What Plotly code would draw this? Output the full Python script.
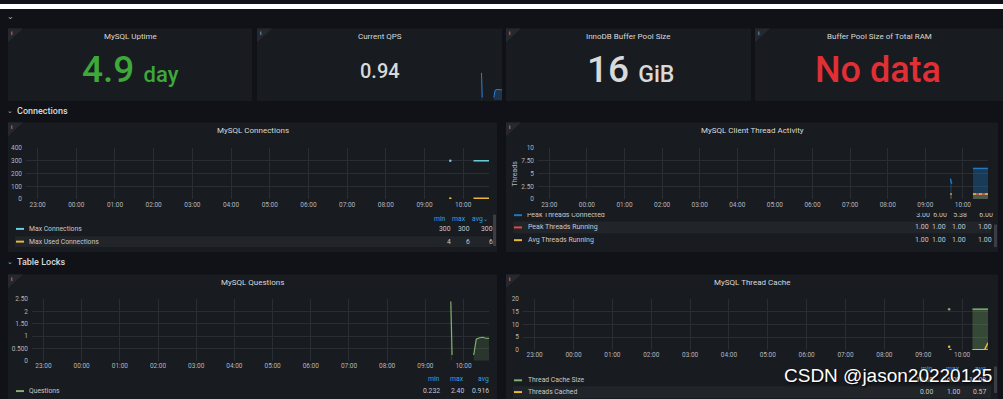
import plotly.graph_objects as go

W, H = 1003, 399
FONT = "Roboto"
BG = "#111217"
PANEL = "#181b1f"
GRID = "#2a2d33"
TICK = "#b4b6bc"
TXT = "#d8d9da"
LEG = "#c7c8cc"
BLUE_HDR = "#33a2e5"


def X(px):
    return px / W


def Y(py):
    return 1 - py / H


# ---------------- data ----------------
x_range = ["2022-01-24 22:42", "2022-01-25 10:40"]
times = ["2022-01-25 09:40", "2022-01-25 09:42", "2022-01-25 10:00",
         "2022-01-25 10:16", "2022-01-25 10:20", "2022-01-25 10:25",
         "2022-01-25 10:30", "2022-01-25 10:35", "2022-01-25 10:40"]
max_connections = [300, None, None, 300, 300, 300, 300, 300, 300]
max_used_connections = [4, None, None, 6, 6, 6, 6, 6, 6]
peak_threads_connected = [4, 3, None, 6, 6, 6, 6, 6, 6]
peak_threads_running = [1, 1, None, 1, 1, 1, 1, 1, 1]
avg_threads_running = [1, 1, None, 1, 1, 1, 1, 1, 1]
questions = [2.40, 0.232, None, 0.232, 0.87, 0.93, 0.95, 0.91, 0.90]
thread_cache_size = [16, None, None, 16, 16, 16, 16, 16, 16]
threads_cached = [1.2, None, None, 0, 0, 0, 0, 0.2, 2.8]
threads_created = [None, 0, None, 0, 0, 0, 0, 0, 0]

stat_titles = ["MySQL Uptime", "Current QPS", "InnoDB Buffer Pool Size",
               "Buffer Pool Size of Total RAM"]
stat_values = ["4.9", "0.94", "16", "No data"]
stat_units = ["day", "", "GiB", ""]

row_titles = ["Connections", "Table Locks"]
panel_titles = ["MySQL Connections", "MySQL Client Thread Activity",
                "MySQL Questions", "MySQL Thread Cache"]

conn_y_ticks = [0, 100, 200, 300, 400]
conn_y_text = ["0", "100", "200", "300", "400"]
thr_y_ticks = [0, 2.5, 5, 7.5, 10]
thr_y_text = ["0", "2.50", "5", "7.50", "10"]
q_y_ticks = [0, 0.5, 1, 1.5, 2, 2.5]
q_y_text = ["0", "0.500", "1", "1.50", "2", "2.50"]
tc_y_ticks = [0, 5, 10, 15, 20]
tc_y_text = ["0", "5", "10", "15", "20"]

legend_headers = ["min", "max", "avg"]
conn_legend_names = ["Max Connections", "Max Used Connections"]
conn_legend_vals = [["300", "300", "300"], ["4", "6", "6"]]
thr_legend_names = ["Peak Threads Connected", "Peak Threads Running", "Avg Threads Running"]
thr_legend_vals = [["3.00", "6.00", "5.38", "6.00"],
                   ["1.00", "1.00", "1.00", "1.00"],
                   ["1.00", "1.00", "1.00", "1.00"]]
q_legend_names = ["Questions"]
q_legend_vals = [["0.232", "2.40", "0.916"]]
tc_legend_names = ["Thread Cache Size", "Threads Cached"]
tc_legend_vals = [["16.00", "16.00", "16.00"], ["0.00", "1.00", "0.57"]]

C_CYAN = "#6ED0E0"
C_YEL = "#EAB839"
C_BLUE = "#1F78C1"
C_RED = "#E24D42"
C_GREEN = "#7EB26D"

shapes = []
annotations = []


def rect(x0, y0, x1, y1, color, layer="below"):
    shapes.append(dict(type="rect", xref="paper", yref="paper",
                       x0=X(x0), x1=X(x1), y0=Y(y1), y1=Y(y0),
                       fillcolor=color, line=dict(width=0), layer=layer))


def text(x, y, s, size=7, color=LEG, xanchor="center", yanchor="middle", weight=None, **kw):
    f = dict(size=size, color=color, family=FONT)
    if weight:
        f["weight"] = weight
    annotations.append(dict(x=X(x), y=Y(y), xref="paper", yref="paper", text=s,
                            showarrow=False, xanchor=xanchor, yanchor=yanchor,
                            borderpad=0, font=f, **kw))


def corner(px, py):
    shapes.append(dict(type="path", xref="paper", yref="paper",
                       path=f"M {X(px)},{Y(py)} L {X(px + 15)},{Y(py)} L {X(px)},{Y(py + 14)} Z",
                       fillcolor="#25282e", line=dict(width=0), layer="below"))
    text(px + 4, py + 4, "i", size=6, color="#c7c8cc")


# ---------------- page chrome ----------------
rect(0, 0, W, 5, "#ffffff")
text(10, 13, "⌄", size=8, color="#aeb0b5")

stat_boxes = [(8, 252), (257, 502), (506, 751), (755, 1003)]
for (x0, x1), t in zip(stat_boxes, stat_titles):
    rect(x0, 25, x1, 99, PANEL)
    corner(x0, 25)
    text((x0 + x1) / 2, 33, t, size=8, color=TXT)

# stat values
text(130, 67, stat_values[0] + f' <span style="font-size:22px">{stat_units[0]}</span>',
     size=37, color="#3ea83a", weight=500)
text(380, 68, stat_values[1], size=20, color=TXT, weight=500)
text(630, 67, stat_values[2] + f' <span style="font-size:23px">{stat_units[2]}</span>',
     size=37, color=TXT, weight=500)
text(878, 67, stat_values[3], size=36, color="#e02f35", weight=500)

# rows
text(10, 109, "⌄", size=7, color="#aeb0b5")
text(16, 109, row_titles[0], size=9, color=TXT, xanchor="left", weight=500)
text(10, 263, "⌄", size=7, color="#aeb0b5")
text(16, 263, row_titles[1], size=9, color=TXT, xanchor="left", weight=500)

# chart panels
chart_boxes = [(8, 121, 497, 253), (506, 121, 998, 253),
               (8, 276, 497, 405), (506, 276, 998, 405)]
title_y = [129.5, 129.5, 284, 284]
for (x0, y0, x1, y1), t, ty in zip(chart_boxes, panel_titles, title_y):
    rect(x0, y0, x1, y1, PANEL)
    corner(x0, y0)
    text((x0 + x1) / 2, ty, t, size=8, color=TXT)

text(515, 173, "Threads", size=7, color=TICK, textangle=-90)


def swatch(x, y, color):
    rect(x, y - 1, x + 8, y + 1, color)


# legend: MySQL Connections
for h, xr in zip(legend_headers, [447, 467, 484]):
    text(xr, 219, h, size=6.8, color=BLUE_HDR, xanchor="right")
text(489, 219, "⌄", size=6, color=BLUE_HDR, xanchor="right")
rect(15, 237, 491, 248, "#212429")
for i, (nm, vals, col) in enumerate(zip(conn_legend_names, conn_legend_vals, [C_CYAN, C_YEL])):
    yy = 229.5 + i * 13
    swatch(16, yy, col)
    text(28, yy, nm, size=6.8, xanchor="left")
    for v, xr in zip(vals, [452, 471, 494]):
        text(xr, yy, v, size=6.8, xanchor="right")
rect(493, 215, 496, 247, "#3a3d43")

# legend: Thread activity (first row is clipped -> drawn as clipped text trace)
rect(513, 222, 991, 234, "#212429")
swatch(514, 215.5, C_BLUE)
for i, (nm, vals, col) in enumerate(zip(thr_legend_names[1:], thr_legend_vals[1:], [C_RED, C_YEL])):
    yy = 228 + i * 13
    swatch(514, yy, col)
    text(527, yy, nm, size=7, xanchor="left")
    for v, xr in zip(vals, [930, 947, 967, 993]):
        text(xr, yy, v, size=7, xanchor="right")
rect(994, 225, 997, 248, "#3a3d43")

# legend: Questions
for h, xr in zip(legend_headers, [441, 465, 490]):
    text(xr, 383, h, size=6.8, color=BLUE_HDR, xanchor="right")
for nm, vals in zip(q_legend_names, q_legend_vals):
    swatch(16, 395, C_GREEN)
    text(28, 395, nm, size=6.8, xanchor="left")
    for v, xr in zip(vals, [441, 465, 490]):
        text(xr, 395, v, size=6.8, xanchor="right")

# legend: Thread cache
for h, xr in zip(legend_headers, [934, 961, 987]):
    text(xr, 372, h, size=6.8, color=BLUE_HDR, xanchor="right")
rect(513, 390, 991, 402, "#212429")
for i, (nm, vals, col) in enumerate(zip(tc_legend_names, tc_legend_vals, [C_GREEN, C_YEL])):
    yy = 384 + i * 12
    swatch(514, yy, col)
    text(527, yy, nm, size=6.8, xanchor="left")
    for v, xr in zip(vals, [934, 961, 987]):
        text(xr, yy, v, size=6.8, xanchor="right")
rect(994, 370, 997, 397, "#3a3d43")

# watermark
annotations.append(dict(x=X(888), y=Y(379), xref="paper", yref="paper",
                        text="CSDN @jason20220125", showarrow=False,
                        xanchor="center", yanchor="middle",
                        font=dict(size=19, color="#ffffff", family="Liberation Sans",
                                  shadow="1px 1px 2px #000000")))

# ---------------- traces ----------------
fig = go.Figure()


def segments(xs, ys):
    segs, cx, cy = [], [], []
    for a, b in zip(xs, ys):
        if b is None:
            if cx:
                segs.append((cx, cy))
            cx, cy = [], []
        else:
            cx.append(a)
            cy.append(b)
    if cx:
        segs.append((cx, cy))
    return segs


def line(x, y, color, ax, fill=None, fillcolor=None, width=1, dash="solid"):
    for sx, sy in segments(x, y):
        if len(sx) == 1:
            fig.add_trace(go.Scatter(x=sx, y=sy, mode="markers", xaxis=ax[0], yaxis=ax[1],
                                     marker=dict(color=color, size=2.5),
                                     showlegend=False, hoverinfo="skip"))
            continue
        fig.add_trace(go.Scatter(x=sx, y=sy, mode="lines", xaxis=ax[0], yaxis=ax[1],
                                 line=dict(color=color, width=width, dash=dash),
                                 fill=fill, fillcolor=fillcolor,
                                 showlegend=False, hoverinfo="skip"))


line(times, max_connections, C_CYAN, ("x", "y"), width=1.5)
line(times, max_used_connections, C_YEL, ("x", "y"), width=1.5)

line(times, peak_threads_connected, C_BLUE, ("x2", "y2"), fill="tozeroy",
     fillcolor="rgba(31,120,193,0.35)", width=1.5)
line(times, peak_threads_running, C_RED, ("x2", "y2"), width=1.5)
line(times, avg_threads_running, C_YEL, ("x2", "y2"), fill="tozeroy",
     fillcolor="rgba(234,184,57,0.25)", width=1.5, dash="dot")

line(times, questions, C_GREEN, ("x3", "y3"), fill="tozeroy",
     fillcolor="rgba(126,178,109,0.18)", width=1.2)

line(times, thread_cache_size, C_GREEN, ("x4", "y4"), fill="tozeroy",
     fillcolor="rgba(126,178,109,0.3)", width=1.5)
line(times, threads_created, C_CYAN, ("x4", "y4"), width=1.5)
line(times, threads_cached, C_YEL, ("x4", "y4"), width=1.5)

# sparkline in Current QPS
line(times, questions, "#2f7ed8", ("x5", "y5"), fill="tozeroy",
     fillcolor="rgba(47,126,216,0.25)", width=1)

# clipped first legend row of thread activity panel
fig.add_trace(go.Scatter(x=[527, 930, 947, 967, 993], y=[0.75] * 5, mode="text",
                         text=[thr_legend_names[0]] + thr_legend_vals[0],
                         textposition=["middle right", "middle left", "middle left",
                                       "middle left", "middle left"],
                         textfont=dict(size=7, color=LEG, family=FONT),
                         xaxis="x6", yaxis="y6", cliponaxis=True,
                         showlegend=False, hoverinfo="skip"))


def xax(x0, x1, anchor):
    return dict(domain=[X(x0), X(x1)], range=x_range, type="date",
                tickformat="%H:%M", dtick=3600000, tick0="2022-01-24 23:00",
                showgrid=True, gridcolor=GRID, gridwidth=1, zeroline=False,
                showline=False, ticks="", anchor=anchor, fixedrange=True,
                tickfont=dict(size=6.5, color=TICK, family=FONT))


def yax(top, bottom, rng, tv, tt, anchor):
    return dict(domain=[Y(bottom), Y(top)], range=rng, tickvals=tv, ticktext=tt,
                showgrid=True, gridcolor=GRID, gridwidth=1, zeroline=False,
                showline=False, ticks="", anchor=anchor, fixedrange=True,
                ticklabelstandoff=3,
                tickfont=dict(size=6.5, color=TICK, family=FONT))


fig.update_layout(
    width=W, height=H, margin=dict(l=0, r=0, t=0, b=0),
    paper_bgcolor=BG, plot_bgcolor="rgba(0,0,0,0)",
    showlegend=False, hovermode=False,
    shapes=shapes, annotations=annotations,
    xaxis=xax(26, 489, "y"),
    yaxis=yax(147, 199, [0, 400], conn_y_ticks, conn_y_text, "x"),
    xaxis2=xax(538, 988, "y2"),
    yaxis2=yax(147, 199, [0, 10], thr_y_ticks, thr_y_text, "x2"),
    xaxis3=xax(32, 489, "y3"),
    yaxis3=yax(301, 364, [0, 2.5], q_y_ticks, q_y_text, "x3"),
    xaxis4=xax(523, 988, "y4"),
    yaxis4=yax(301, 353, [0, 20], tc_y_ticks, tc_y_text, "x4"),
    xaxis5=dict(domain=[X(257), X(502)], range=x_range, type="date", visible=False,
                anchor="y5", fixedrange=True),
    yaxis5=dict(domain=[Y(98), Y(70)], range=[0, 2.42], visible=False,
                anchor="x5", fixedrange=True),
    xaxis6=dict(domain=[X(506), X(998)], range=[506, 998], visible=False,
                anchor="y6", fixedrange=True),
    yaxis6=dict(domain=[Y(221), Y(213.3)], range=[0, 1], visible=False,
                anchor="x6", fixedrange=True),
)

fig.write_html(
    "out.html",
    config={"displayModeBar": False, "staticPlot": True},
    post_script="document.body.style.margin='0';document.body.style.overflow='hidden';",
)
